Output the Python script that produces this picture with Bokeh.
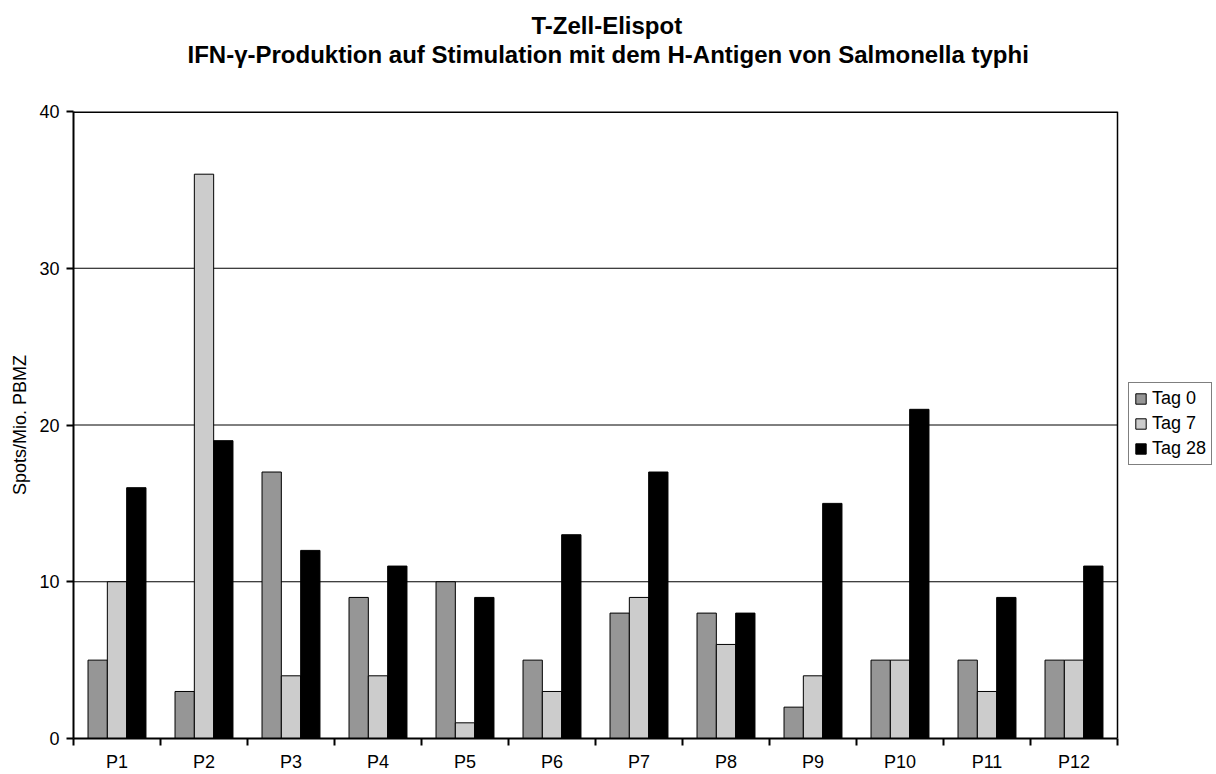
from bokeh.plotting import figure
from bokeh.models import (Range1d, FixedTicker, Legend, LegendItem, Title, ColumnDataSource)
from bokeh.transform import dodge
from bokeh.embed import file_html
from bokeh.resources import INLINE

patients = ["P1", "P2", "P3", "P4", "P5", "P6", "P7", "P8", "P9", "P10", "P11", "P12"]
tag0 = [5, 3, 17, 9, 10, 5, 8, 8, 2, 5, 5, 5]
tag7 = [10, 36, 4, 4, 1, 3, 9, 6, 4, 5, 3, 5]
tag28 = [16, 19, 12, 11, 9, 13, 17, 8, 15, 21, 9, 11]
series_names = ["Tag 0", "Tag 7", "Tag 28"]
series_colors = ["#969696", "#cccccc", "#000000"]
y_ticks = [0, 10, 20, 30, 40]
title1 = "T-Zell-Elispot"
title2 = "IFN-\u03b3-Produktion auf Stimulation mit dem H-Antigen von Salmonella typhi"
y_label = "Spots/Mio. PBMZ"

FONT = "Liberation Sans"
n = len(patients)
ymax = y_ticks[-1]
pos = [i + 0.5 for i in range(n)]
src = ColumnDataSource(dict(x=pos, t0=tag0, t7=tag7, t28=tag28))

# frame spans to the right edge so the legend can live inside it;
# the plot area itself (0..n) ends where it does in the reference
W, H = 1216, 774
LEFT, TOP, BOTTOM = 73, 111, 35
area_px = 1044
x_end = n * (W - LEFT) / area_px

p = figure(width=W, height=H, x_range=Range1d(0, x_end), y_range=Range1d(0, ymax),
           output_backend="svg", toolbar_location=None, title="",
           min_border_left=LEFT, min_border_right=0, min_border_top=TOP, min_border_bottom=BOTTOM)
p.background_fill_color = "white"
p.border_fill_color = "white"
p.outline_line_color = None
p.xgrid.visible = False
p.ygrid.visible = False

# horizontal grid lines limited to the plot area (drawn beneath the bars)
grid_src = ColumnDataSource(dict(y=y_ticks[1:-1]))
p.segment(x0=0, x1=n, y0="y", y1="y", source=grid_src, line_color="black", line_width=1)
# plot-area border: top and right edges
p.segment(x0=[0], x1=[n], y0=[ymax], y1=[ymax], line_color="black", line_width=3)
p.segment(x0=[n], x1=[n], y0=[0], y1=[ymax], line_color="black", line_width=1.5)

bw = 0.222
renderers = []
for col, off, color in zip(["t0", "t7", "t28"], [-bw, 0, bw], series_colors):
    r = p.vbar(x=dodge("x", off, range=p.x_range), top=col, width=bw, bottom=0, source=src,
               fill_color=color, line_color="black", line_width=1)
    renderers.append(r)

# x axis
xa = p.xaxis[0]
xa.bounds = (0, n)
xa.ticker = FixedTicker(ticks=pos, minor_ticks=list(range(n + 1)))
xa.major_label_overrides = {pv: lab for pv, lab in zip(pos, patients)}
xa.major_tick_out = 0
xa.major_tick_in = 0
xa.minor_tick_out = 7
xa.minor_tick_in = 0
xa.minor_tick_line_width = 2
xa.minor_tick_line_color = "black"
xa.axis_line_width = 2
xa.axis_line_color = "black"
xa.major_label_text_font = FONT
xa.major_label_text_font_size = "18px"
xa.major_label_text_color = "black"
xa.major_label_standoff = 6

# y axis
ya = p.yaxis[0]
ya.ticker = FixedTicker(ticks=y_ticks, minor_ticks=[])
ya.major_tick_out = 7
ya.major_tick_in = 0
ya.major_tick_line_width = 2
ya.minor_tick_line_color = None
ya.axis_line_width = 2
ya.axis_line_color = "black"
ya.major_label_text_font = FONT
ya.major_label_text_font_size = "18px"
ya.major_label_text_color = "black"
ya.major_label_standoff = 7
ya.axis_label = y_label
ya.axis_label_text_font = FONT
ya.axis_label_text_font_size = "18px"
ya.axis_label_text_font_style = "normal"
ya.axis_label_text_color = "black"
ya.axis_label_standoff = 6

legend = Legend(items=[LegendItem(label=nm, renderers=[r]) for nm, r in zip(series_names, renderers)],
                location=(1055, 273), orientation="vertical")
legend.border_line_color = "black"
legend.border_line_width = 1
legend.background_fill_color = "white"
legend.background_fill_alpha = 1
legend.padding = 5
legend.spacing = 4
legend.margin = 0
legend.glyph_width = 13
legend.glyph_height = 13
legend.label_height = 19
legend.label_standoff = 5
legend.label_text_font = FONT
legend.label_text_font_size = "18px"
legend.label_text_color = "black"
p.add_layout(legend, "center")

# titles (stacked above the frame: spacer, line 2, line 1)
def mk_title(txt, offset, standoff):
    return Title(text=txt, align="left", offset=offset, vertical_align="bottom", standoff=standoff,
                 text_font=FONT, text_font_size="24px", text_font_style="bold", text_color="black")

spacer = mk_title(" ", 0, 15)
t2 = mk_title(title2, 114, 0)
t1 = mk_title(title1, 458, 0)
p.add_layout(spacer, "above")
p.add_layout(t2, "above")
p.add_layout(t1, "above")

open("out.html", "w").write(file_html(p, INLINE))
